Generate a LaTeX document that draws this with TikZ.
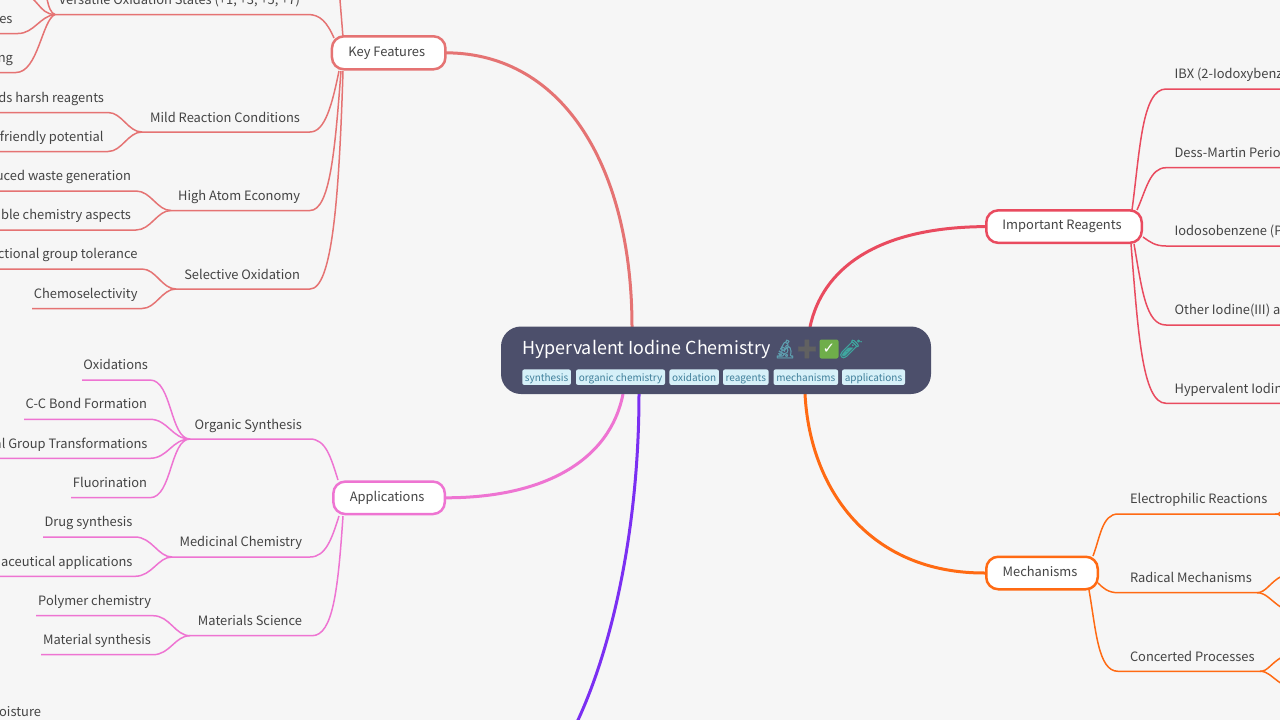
\documentclass[tikz,border=0pt]{standalone}
\usepackage{fontspec}
\setmainfont{Noto Sans CJK SC}
\newfontfamily\emo[FakeBold=1.5]{Noto Emoji}
\newfontfamily\djvfont{DejaVu Sans}
\pgfdeclarelayer{bgl}
\pgfdeclarelayer{edges}
\pgfsetlayers{bgl,edges,main}
\definecolor{bgc}{HTML}{F6F6F6}
\definecolor{rootc}{HTML}{4C4F6B}
\definecolor{tagf}{HTML}{D6F0F8}
\definecolor{tagt}{HTML}{3F7F9A}
\definecolor{ink}{HTML}{444444}
\definecolor{kfc}{HTML}{E57373}
\definecolor{rec}{HTML}{E94B5F}
\definecolor{mec}{HTML}{FF6A13}
\definecolor{apc}{HTML}{EE74D2}
\definecolor{puc}{HTML}{7B2FF2}
\definecolor{chk}{HTML}{6FAE4A}
\definecolor{micro}{HTML}{5E9FB0}
\definecolor{tube}{HTML}{3FA8A0}
\tikzset{
  x=1pt,y=-1pt,
  txt/.style={inner sep=0pt,outer sep=0pt,text=ink,font=\fontsize{12.9}{16}\selectfont},
  ltxt/.style={txt,anchor=base east},
  rtxt/.style={txt,anchor=base west},
  branch/.style={draw=#1,fill=white,line width=2.5pt,rounded corners=12pt,inner sep=0pt,outer sep=0pt,text=ink,text height=9.5pt,text depth=3pt,font=\fontsize{12.9}{16}\selectfont},
  rootbox/.style={fill=rootc,rounded corners=20pt,inner sep=0pt,outer sep=0pt},
  tagbox/.style={fill=tagf,rounded corners=2pt,inner sep=0pt,outer sep=0pt,text=tagt,minimum height=15.5pt,text height=10pt,text depth=1.4pt,font=\fontsize{10}{12}\selectfont},
  mainedge/.style={draw=#1,line width=3pt},
  subedge/.style={draw=#1,line width=1.5pt},
}
\begin{document}
\begin{tikzpicture}
\useasboundingbox (0,0) rectangle (1280,720);
\begin{pgfonlayer}{bgl}
\fill[bgc] (0,0) rectangle (1280,720);
\end{pgfonlayer}
% root
\node[rootbox,minimum width=430pt,minimum height=67.5pt] (root) at (716,360.25) {};
\node[inner sep=0pt,anchor=base west,text=white,font=\fontsize{17.9}{22}\selectfont] (title) at (522,354.5) {Hypervalent Iodine Chemistry};
\node[inner sep=0pt,text=micro,font=\emo\fontsize{18}{20}\selectfont] (e1) at (785,349) {🔬};
\node[inner sep=0pt,text=black!62,font=\emo\fontsize{19}{20}\selectfont] (e2) at (807,349) {➕};
\node[fill=chk,rounded corners=2pt,inner sep=0pt,minimum size=19pt,text=white,font=\djvfont\fontsize{15}{16}\selectfont] (e3) at (829,349) {✓};
\node[inner sep=0pt,text=tube,font=\emo\fontsize{18}{20}\selectfont] (e4) at (851,349) {🧪};
\node[tagbox,minimum width=48.7pt] (t1) at (546.6,377.2) {synthesis};
\node[tagbox,minimum width=89pt] (t2) at (620.5,377.2) {organic chemistry};
\node[tagbox,minimum width=49.5pt] (t3) at (694.2,377.2) {oxidation};
\node[tagbox,minimum width=45.5pt] (t4) at (745.8,377.2) {reagents};
\node[tagbox,minimum width=64.5pt] (t5) at (805.8,377.2) {mechanisms};
\node[tagbox,minimum width=63pt] (t6) at (873.5,377.2) {applications};
% branches
\node[branch=kfc,minimum width=113.5pt,minimum height=33pt] (kf) at (388.7,52.8) {Key Features\kern4pt};
\node[branch=rec,minimum width=155.5pt,minimum height=32.5pt] (re) at (1064,226.6) {Important Reagents\kern4pt};
\node[branch=mec,minimum width=111.5pt,minimum height=32.5pt] (me) at (1042,573) {Mechanisms\kern4pt};
\node[branch=apc,minimum width=111.5pt,minimum height=32.5pt] (ap) at (389.1,497.8) {Applications\kern4pt};
% key features labels
\node[ltxt] (k1) at (300,4.2) {Versatile Oxidation States (+1, +3, +5, +7)};
\node[ltxt] (k2) at (300,122.1) {Mild Reaction Conditions};
\node[ltxt] (k3) at (300,200.2) {High Atom Economy};
\node[ltxt] (k4) at (300,279.1) {Selective Oxidation};
\node[ltxt] (k1b) at (12.5,23.2) {es};
\node[ltxt] (k1c) at (13,62.2) {ng};
\node[ltxt] (k2a) at (104,102.2) {ds harsh reagents};
\node[ltxt] (k2b) at (103.5,141.2) {friendly potential};
\node[ltxt] (k3a) at (131,180.7) {uced waste generation};
\node[ltxt] (k3b) at (131,219.7) {able chemistry aspects};
\node[ltxt] (k4a) at (137.5,258.7) {ctional group tolerance};
\node[ltxt] (k4b) at (137.5,298.2) {Chemoselectivity};
% applications labels
\node[ltxt] (a1) at (302,429.1) {Organic Synthesis};
\node[ltxt] (a2) at (302,546.7) {Medicinal Chemistry};
\node[ltxt] (a3) at (302,625.4) {Materials Science};
\node[ltxt] (a1a) at (148,369.7) {Oxidations};
\node[ltxt] (a1b) at (147,408.6) {C-C Bond Formation};
\node[ltxt] (a1c) at (147.5,448) {al Group Transformations};
\node[ltxt] (a1d) at (147,487.4) {Fluorination};
\node[ltxt] (a2a) at (132.5,526.7) {Drug synthesis};
\node[ltxt] (a2b) at (132.5,566) {aceutical applications};
\node[ltxt] (a3a) at (151,605.4) {Polymer chemistry};
\node[ltxt] (a3b) at (151,644.4) {Material synthesis};
\node[ltxt] (o1) at (41,716) {oisture};
% right labels
\node[rtxt] (r1) at (1174.6,78.7) {IBX (2-Iodoxybenz};
\node[rtxt] (r2) at (1174.6,157.4) {Dess-Martin Perio};
\node[rtxt] (r3) at (1174.6,235.7) {Iodosobenzene (P};
\node[rtxt] (r4) at (1174.6,314.7) {Other Iodine(III) a};
\node[rtxt] (r5) at (1174.6,393) {Hypervalent Iodin};
\node[rtxt] (m1) at (1130,503.7) {Electrophilic Reactions};
\node[rtxt] (m2) at (1130,582.4) {Radical Mechanisms};
\node[rtxt] (m3) at (1130,661) {Concerted Processes};
% connector end coordinates
\coordinate (rk) at (632,327);
\coordinate (rr) at (810,327);
\coordinate (rm) at (805,394);
\coordinate (ra) at (623,394);
\coordinate (rp) at (639,394);
\coordinate (pEnd) at (570,735);
\coordinate (jk1) at (55,14.5);
\coordinate (jk2) at (142,132);
\coordinate (jk3) at (171,210.5);
\coordinate (jk4) at (176,289);
\coordinate (ja1) at (190,439);
\coordinate (ja2) at (172,557);
\coordinate (ja3) at (190,635.7);
\coordinate (jm1) at (1275,514);
\coordinate (jm2) at (1257,592.7);
\coordinate (jm3) at (1260,671.3);
\begin{pgfonlayer}{edges}
% main
\draw[mainedge=kfc] (kf.east) .. controls (565,53) and (632,170) .. (rk);
\draw[mainedge=rec] (re.west) .. controls (875,227) and (822,270) .. (rr);
\draw[mainedge=mec] (me.west) .. controls (870,574) and (810,490) .. (rm);
\draw[mainedge=apc] (ap.east) .. controls (545,498) and (610,460) .. (ra);
\draw[mainedge=puc] (rp) .. controls (639,520) and (615,640) .. (578,720) -- (pEnd);
% key features
\coordinate (c) at (335,-30);
\draw[subedge=kfc] (343,37) -- (340,0) -- (c);
\draw[subedge=kfc] (334,38) .. controls (327,22) and (320,14.5) .. (308,14.5) -- (jk1);
\draw[subedge=kfc] (339,71) .. controls (332,105) and (325,132) .. (310,132) -- (jk2);
\draw[subedge=kfc] (341,71) .. controls (335,150) and (330,210.5) .. (310,210.5) -- (jk3);
\draw[subedge=kfc] (343,71) .. controls (339,200) and (332,289) .. (310,289) -- (jk4);
\draw[subedge=kfc] (jk1) .. controls (38,14.5) and (38,-6) .. (20,-6);
\draw[subedge=kfc] (jk1) .. controls (47,12) and (46,-8) .. (40,-45);
\draw[subedge=kfc] (jk1) .. controls (40,16) and (34,33.5) .. (18,33.5) -- (-2,33.5);
\draw[subedge=kfc] (jk1) .. controls (42,20) and (38,72.5) .. (16,72.5) -- (-2,72.5);
\draw[subedge=kfc] (jk2) .. controls (128,132) and (122,112.5) .. (108,112.5) -- (-2,112.5);
\draw[subedge=kfc] (jk2) .. controls (128,132) and (122,151.5) .. (108,151.5) -- (-2,151.5);
\draw[subedge=kfc] (jk3) .. controls (157,210.5) and (151,191) .. (136,191) -- (-2,191);
\draw[subedge=kfc] (jk3) .. controls (157,210.5) and (151,230) .. (136,230) -- (-2,230);
\draw[subedge=kfc] (jk4) .. controls (162,289) and (156,269) .. (142,269) -- (-2,269);
\draw[subedge=kfc] (jk4) .. controls (162,289) and (156,308.5) .. (142,308.5) -- (32,308.5);
% applications
\draw[subedge=apc] (338,480) .. controls (331,458) and (326,439) .. (310,439) -- (ja1);
\draw[subedge=apc] (339,516) .. controls (332,538) and (326,557) .. (310,557) -- (ja2);
\draw[subedge=apc] (343,516) .. controls (338,590) and (333,635.7) .. (312,635.7) -- (ja3);
\draw[subedge=apc] (ja1) .. controls (170,439) and (172,380) .. (150,380) -- (82,380);
\draw[subedge=apc] (ja1) .. controls (172,439) and (168,419.3) .. (150,419.3) -- (24,419.3);
\draw[subedge=apc] (ja1) .. controls (172,439) and (168,458.3) .. (150,458.3) -- (-2,458.3);
\draw[subedge=apc] (ja1) .. controls (170,439) and (172,497.7) .. (150,497.7) -- (71,497.7);
\draw[subedge=apc] (ja2) .. controls (158,557) and (152,537) .. (135,537) -- (43,537);
\draw[subedge=apc] (ja2) .. controls (158,557) and (152,576.3) .. (135,576.3) -- (-2,576.3);
\draw[subedge=apc] (ja3) .. controls (175,635.7) and (170,615.7) .. (153,615.7) -- (36,615.7);
\draw[subedge=apc] (ja3) .. controls (175,635.7) and (170,654.7) .. (153,654.7) -- (41,654.7);
% reagents
\draw[subedge=rec] (1132,210) .. controls (1140,150) and (1142,89) .. (1166,89) -- (1282,89);
\draw[subedge=rec] (1137,210) .. controls (1146,190) and (1150,167.7) .. (1166,167.7) -- (1282,167.7);
\draw[subedge=rec] (1143,237) .. controls (1150,242) and (1155,246) .. (1166,246) -- (1282,246);
\draw[subedge=rec] (1134,244) .. controls (1142,290) and (1146,325) .. (1166,325) -- (1282,325);
\draw[subedge=rec] (1131,244) .. controls (1138,330) and (1142,403.3) .. (1166,403.3) -- (1282,403.3);
% mechanisms
\draw[subedge=mec] (1093,556) .. controls (1100,538) and (1102,514) .. (1118,514) -- (jm1);
\draw[subedge=mec] (1098,583) .. controls (1103,588) and (1108,592.7) .. (1118,592.7) -- (jm2);
\draw[subedge=mec] (1089,590) .. controls (1096,630) and (1098,671.3) .. (1118,671.3) -- (jm3);
\draw[subedge=mec] (jm1) -- (1278,514) -- (1282,511);
\draw[subedge=mec] (jm1) -- (1278,514) -- (1282,517);
\draw[subedge=mec] (jm2) .. controls (1266,592.7) and (1270,582) .. (1282,576);
\draw[subedge=mec] (jm2) .. controls (1266,592.7) and (1270,600) .. (1282,608);
\draw[subedge=mec] (jm3) .. controls (1268,671.3) and (1270,664) .. (1282,657);
\draw[subedge=mec] (jm3) .. controls (1268,671.3) and (1270,676) .. (1282,684);
\end{pgfonlayer}
\end{tikzpicture}
\end{document}
